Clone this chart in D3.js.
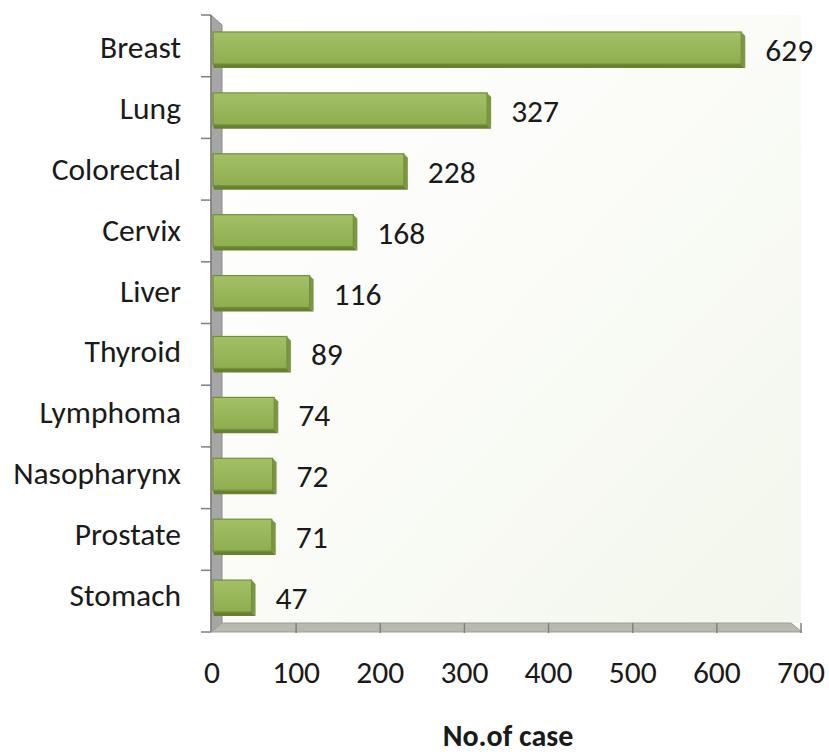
<!DOCTYPE html>
<html>
<head>
<meta charset="utf-8">
<script src="https://cdn.jsdelivr.net/npm/d3@7"></script>
<style>
  body { margin: 0; background: #fff; }
  text { font-family: "Carlito", "Open Sans", sans-serif; fill: #1a1a1a; }
</style>
</head>
<body>
<script>
// cancer sites and number of cases
var sites = ["Breast", "Lung", "Colorectal", "Cervix", "Liver", "Thyroid", "Lymphoma", "Nasopharynx", "Prostate", "Stomach"]
var cases = [629, 327, 228, 168, 116, 89, 74, 72, 71, 47]
var xTicks = [0, 100, 200, 300, 400, 500, 600, 700]
var xTitle = "No.of case"

var w = 829, h = 756
var depth = 4
var fs = "31.5px"

var svg = d3.select("body").append("svg")
  .attr("width", w)
  .attr("height", h)

var x = d3.scaleLinear().domain([0, 700]).range([212, 801])
var y = d3.scaleBand().domain(sites).range([19.5, 628.5])
  .paddingInner(0.41).paddingOuter(0.205)
// wall ticks sit on the band edges of the back plane
var yEdge = d3.scaleLinear().domain([0, sites.length]).range([15, 632])

var defs = svg.append("defs")
var bg = defs.append("linearGradient").attr("id", "bg")
  .attr("x1", "0").attr("y1", "0").attr("x2", "1").attr("y2", "1")
bg.append("stop").attr("offset", "0").attr("stop-color", "#ffffff")
bg.append("stop").attr("offset", "0.45").attr("stop-color", "#fbfcf8")
bg.append("stop").attr("offset", "1").attr("stop-color", "#f2f6eb")

var barGrad = defs.append("linearGradient").attr("id", "bar")
  .attr("x1", "0").attr("y1", "0").attr("x2", "0").attr("y2", "1")
barGrad.append("stop").attr("offset", "0").attr("stop-color", "#a2c065")
barGrad.append("stop").attr("offset", "1").attr("stop-color", "#8fae50")

// plot area back
svg.append("rect")
  .attr("x", 222).attr("y", 15)
  .attr("width", x(700) - 222).attr("height", 608)
  .style("fill", "url(#bg)")

// wall
svg.append("polygon")
  .attr("points", [[211, 15], [222, 25], [222, 623], [211, 632]].join(" "))
  .style("fill", "#a6a6a6").style("stroke", "#8c8c8c").style("stroke-width", 1)
svg.append("line")
  .attr("x1", 211).attr("x2", 211).attr("y1", 15).attr("y2", 632)
  .style("stroke", "#7f7f7f").style("stroke-width", 1.5)

// floor
svg.append("polygon")
  .attr("points", [[211, 632], [222, 623], [x(700) - 10, 623], [x(700) + 1, 632]].join(" "))
  .style("fill", "#b7bab0").style("stroke", "#9a9d93").style("stroke-width", 1)

svg.selectAll(".ftick")
  .data(xTicks.slice(1))
  .enter().append("line")
  .attr("class", "ftick")
  .attr("x1", function(d){ return x(d) }).attr("x2", function(d){ return x(d) })
  .attr("y1", 623).attr("y2", 633)
  .style("stroke", "#808080").style("stroke-width", 1.5)

// wall ticks
svg.selectAll(".ytick")
  .data(d3.range(sites.length + 1))
  .enter().append("line")
  .attr("class", "ytick")
  .attr("x1", 201).attr("x2", 211)
  .attr("y1", function(d){ return yEdge(d) }).attr("y2", function(d){ return yEdge(d) })
  .style("stroke", "#7f7f7f").style("stroke-width", 1.5)

// bars
var bars = svg.selectAll(".bar")
  .data(sites)
  .enter().append("g")
  .attr("class", "bar")

var bh = y.bandwidth() - depth

bars.append("polygon")
  .attr("points", function(d, i){
    var x1 = x(cases[i]), y0 = y(d)
    return [[x1, y0], [x1 + depth, y0 + depth], [x1 + depth, y0 + bh + depth], [x1, y0 + bh]].join(" ")
  })
  .style("fill", "#7a983f")

bars.append("polygon")
  .attr("points", function(d, i){
    var x0 = x(0) + 1, x1 = x(cases[i]), y1 = y(d) + bh
    return [[x0, y1], [x1, y1], [x1 + depth, y1 + depth], [x0 + 1, y1 + depth]].join(" ")
  })
  .style("fill", "#67822f")

bars.append("rect")
  .attr("x", x(0) + 1)
  .attr("y", function(d){ return y(d) })
  .attr("width", function(d, i){ return x(cases[i]) - x(0) - 1 })
  .attr("height", bh)
  .style("fill", "url(#bar)")
  .style("stroke", "#71903a")
  .style("stroke-width", 1.2)

// value labels
bars.append("text")
  .attr("x", function(d, i){ return x(cases[i]) + 24 })
  .attr("y", function(d){ return y(d) + y.bandwidth() / 2 + 11 })
  .style("font-size", fs)
  .text(function(d, i){ return cases[i] })

// category labels
svg.selectAll(".cat")
  .data(sites)
  .enter().append("text")
  .attr("class", "cat")
  .attr("x", 181)
  .attr("y", function(d){ return y(d) + y.bandwidth() / 2 + 8 })
  .attr("text-anchor", "end")
  .style("font-size", fs)
  .text(function(d){ return d })

// x tick labels
svg.selectAll(".xl")
  .data(xTicks)
  .enter().append("text")
  .attr("class", "xl")
  .attr("x", function(d){ return x(d) })
  .attr("y", 683)
  .attr("text-anchor", "middle")
  .style("font-size", fs)
  .text(function(d){ return d })

svg.append("text")
  .attr("x", 508)
  .attr("y", 746)
  .attr("text-anchor", "middle")
  .style("font-size", "30px")
  .style("font-weight", "bold")
  .text(xTitle)
</script>
</body>
</html>
